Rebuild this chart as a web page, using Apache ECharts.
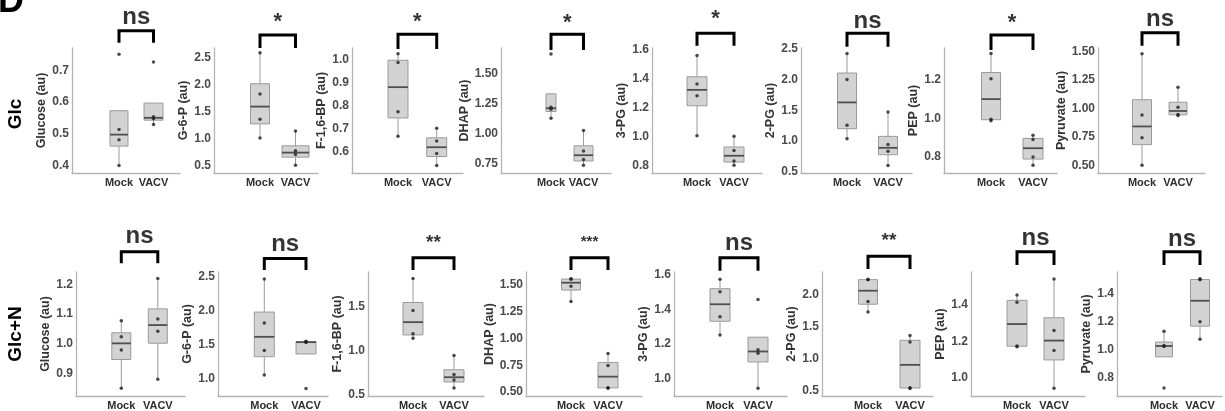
<!DOCTYPE html>
<html>
<head>
<meta charset="utf-8">
<script src="https://cdn.jsdelivr.net/npm/echarts@6/dist/echarts.min.js"></script>
<style>
  html, body { margin: 0; padding: 0; background: #fff; }
  #chart { width: 1225px; height: 411px; }
</style>
</head>
<body>
<div id="chart"></div>
<script>
// ---- data (4 replicates per group) ----
const metabolites = ['Glucose', 'G-6-P', 'F-1,6-BP', 'DHAP', '3-PG', '2-PG', 'PEP', 'Pyruvate'];
const groups = ['Mock', 'VACV'];
const conditions = ['Glc', 'Glc+N'];

const glcMock = [
  [0.40, 0.481, 0.513, 0.75],
  [1.01, 1.36, 1.83, 2.60],
  [0.666, 0.772, 0.988, 1.026],
  [1.13, 1.205, 1.223, 1.668],
  [1.005, 1.28, 1.362, 1.559],
  [1.039, 1.256, 2.0, 2.419],
  [0.988, 0.995, 1.205, 1.336],
  [0.5, 0.741, 0.941, 1.48]
];
const glcVacv = [
  [0.529, 0.547, 0.553, 0.726],
  [0.5, 0.70, 0.77, 1.14],
  [0.538, 0.59, 0.645, 0.70],
  [0.736, 0.784, 0.856, 1.028],
  [0.80, 0.83, 0.902, 1.0],
  [0.605, 0.838, 0.946, 1.473],
  [0.757, 0.80, 0.891, 0.913],
  [0.938, 0.945, 1.009, 1.186]
];
const glcnMock = [
  [0.85, 0.979, 1.023, 1.077],
  [1.058, 1.416, 1.82, 2.466],
  [1.139, 1.191, 1.455, 1.818],
  [1.346, 1.49, 1.556, 1.56],
  [1.253, 1.358, 1.501, 1.573],
  [1.724, 1.887, 2.225, 2.235],
  [1.17, 1.175, 1.415, 1.454],
  [0.723, 1.02, 1.026, 1.129]
];
const glcnVacv = [
  [0.88, 1.042, 1.083, 1.219],
  [0.86, 1.535, 1.545, 1.552],
  [0.575, 0.667, 0.729, 0.944],
  [0.535, 0.540, 0.748, 0.861],
  [0.947, 1.148, 1.168, 1.457],
  [0.54, 0.55, 1.262, 1.362],
  [0.944, 1.15, 1.259, 1.541],
  [1.071, 1.196, 1.497, 1.503]
];

const glcSig = ['ns', '*', '*', '*', '*', 'ns', '*', 'ns'];
const glcnSig = ['ns', 'ns', '**', '***', 'ns', '**', 'ns', 'ns'];

// y axis ranges and tick labels
const glcYRange = [[0.376, 0.77], [0.354, 2.69], [0.505, 1.051], [0.671, 1.719],
  [0.747, 1.61], [0.484, 2.51], [0.717, 1.365], [0.432, 1.53]];
const glcnYRange = [[0.824, 1.241], [0.749, 2.57], [0.485, 1.892], [0.463, 1.623],
  [0.902, 1.615], [0.423, 2.346], [0.901, 1.58], [0.666, 1.552]];
const glcTicks = [[0.4, 0.5, 0.6, 0.7], [0.5, 1, 1.5, 2, 2.5], [0.6, 0.7, 0.8, 0.9, 1.0],
  [0.75, 1.0, 1.25, 1.5], [0.8, 1.0, 1.2, 1.4, 1.6], [0.5, 1, 1.5, 2, 2.5],
  [0.8, 1.0, 1.2], [0.5, 0.75, 1.0, 1.25, 1.5]];
const glcnTicks = [[0.9, 1.0, 1.1, 1.2], [1.0, 1.5, 2.0, 2.5], [0.5, 1.0, 1.5],
  [0.5, 0.75, 1.0, 1.25, 1.5], [1.0, 1.2, 1.4, 1.6], [0.5, 1.0, 1.5, 2.0],
  [1.0, 1.2, 1.4], [0.8, 1.0, 1.2, 1.4]];
const glcDecimals = [1, 1, 1, 2, 1, 1, 1, 2];
const glcnDecimals = [1, 1, 1, 2, 1, 1, 1, 1];

// ---- layout (pixels) ----
const layout = [
  {
    top: 48, bottom: 173,
    left: [72, 214, 352, 501, 652, 801, 944, 1098],
    right: [180, 318, 463, 611, 762, 912, 1057, 1205],
    mockX: [119, 260, 398, 551, 697, 847, 991, 1142],
    vacvX: [153.5, 295.5, 436.7, 583.5, 734, 888, 1033, 1178],
    boxW: [[18, 19], [19, 27], [20, 20], [10, 19], [20, 20], [19, 19], [19, 20], [19, 18]],
    bracket: [[30.7, 42.7], [35, 48], [34.3, 49], [34.3, 50], [33.3, 45.7], [33.3, 46.7], [35, 50], [32.7, 45.7]],
    sigY: [17.5, 21.7, 21.7, 22.5, 19.2, 21.5, 22.5, 19],
    nameGap: [17, 17, 17, 22, 17, 17, 17, 22]
  },
  {
    top: 272, bottom: 397,
    left: [76, 218, 368, 526, 674, 822, 971, 1117],
    right: [185, 328, 484, 642, 787, 933, 1085, 1222],
    mockX: [121.3, 264.3, 413, 571, 720, 868, 1017, 1164],
    vacvX: [157.8, 306, 454, 608, 758, 910, 1054, 1200],
    boxW: [[19, 19], [20, 20], [20, 20], [19, 20], [20, 20], [19, 20], [20, 20], [17, 19]],
    bracket: [[251.7, 263.3], [258.3, 270], [257.7, 270], [257.7, 270], [257.7, 270.7], [256, 269], [251.7, 265], [251.7, 265]],
    sigY: [236.5, 244, 242.7, 241.3, 243.5, 241, 238.5, 239],
    nameGap: [17, 17, 17, 22, 17, 17, 17, 17]
  }
];

const rowData = [
  { mock: glcMock, vacv: glcVacv, sig: glcSig, yRange: glcYRange, ticks: glcTicks, dec: glcDecimals },
  { mock: glcnMock, vacv: glcnVacv, sig: glcnSig, yRange: glcnYRange, ticks: glcnTicks, dec: glcnDecimals }
];

const FONT = '"Liberation Sans", Arial, sans-serif';
const sigSize = { 'ns': 24, '*': 22, '**': 19, '***': 15 };

// ggplot-style box statistics (type 7 quantiles, 1.5 IQR whiskers)
function quantile(s, p) {
  const h = (s.length - 1) * p;
  const lo = Math.floor(h);
  const hi = Math.min(lo + 1, s.length - 1);
  return s[lo] + (h - lo) * (s[hi] - s[lo]);
}
function boxStats(values) {
  const s = values.slice().sort((a, b) => a - b);
  const q1 = quantile(s, 0.25), med = quantile(s, 0.5), q3 = quantile(s, 0.75);
  const iqr = q3 - q1;
  const inside = s.filter(v => v >= q1 - 1.5 * iqr && v <= q3 + 1.5 * iqr);
  return [inside[0], q1, med, q3, inside[inside.length - 1]];
}

const grid = [], xAxis = [], yAxis = [], series = [];
const axisLineStyle = { color: '#b4b4b4', width: 1.3 };

layout.forEach((lay, r) => {
  const rd = rowData[r];
  for (let c = 0; c < metabolites.length; c++) {
    const i = grid.length;
    const L = lay.left[c], R = lay.right[c], T = lay.top, B = lay.bottom;
    const s = lay.vacvX[c] - lay.mockX[c];
    const [ymin, ymax] = rd.yRange[c];
    const pxToY = py => ymin + (B - py) / (B - T) * (ymax - ymin);
    const dec = rd.dec[c];

    grid.push({ left: L, top: T, width: R - L, height: B - T });
    xAxis.push({
      gridIndex: i, type: 'value',
      min: 1 - (lay.mockX[c] - L) / s,
      max: 2 + (R - lay.vacvX[c]) / s,
      axisLine: { show: true, onZero: false, lineStyle: axisLineStyle },
      axisTick: { show: false },
      splitLine: { show: false },
      axisLabel: {
        customValues: [1, 2],
        formatter: v => groups[Math.round(v) - 1],
        fontFamily: FONT, fontWeight: 'bold', fontSize: 11, color: '#2e2e2e', margin: 4
      }
    });
    yAxis.push({
      gridIndex: i, type: 'value', min: ymin, max: ymax,
      name: metabolites[c] + ' (au)',
      nameLocation: 'middle', nameGap: lay.nameGap[c],
      nameTextStyle: { fontFamily: FONT, fontWeight: 'bold', fontSize: 12.5, color: '#333' },
      axisLine: { show: true, onZero: false, lineStyle: axisLineStyle },
      axisTick: { show: false },
      splitLine: { show: false },
      axisLabel: {
        customValues: rd.ticks[c],
        formatter: v => v.toFixed(dec),
        fontFamily: FONT, fontWeight: 'bold', fontSize: 12, color: '#4a4a4a', margin: 3
      }
    });

    const mockVals = rd.mock[c], vacvVals = rd.vacv[c];
    const widths = lay.boxW[c];

    // boxes
    series.push({
      type: 'custom', xAxisIndex: i, yAxisIndex: i, silent: true,
      data: [[1].concat(boxStats(mockVals)), [2].concat(boxStats(vacvVals))],
      encode: { x: 0, y: [1, 2, 3, 4, 5] },
      renderItem: (params, api) => {
        const x = api.value(0);
        const w = widths[params.dataIndex];
        const pLo = api.coord([x, api.value(1)]);
        const pQ1 = api.coord([x, api.value(2)]);
        const pMed = api.coord([x, api.value(3)]);
        const pQ3 = api.coord([x, api.value(4)]);
        const pHi = api.coord([x, api.value(5)]);
        const cx = pQ1[0];
        const wStyle = { stroke: '#9c9c9c', lineWidth: 1 };
        return {
          type: 'group',
          children: [
            { type: 'line', shape: { x1: cx, y1: pLo[1], x2: cx, y2: pQ1[1] }, style: wStyle },
            { type: 'line', shape: { x1: cx, y1: pQ3[1], x2: cx, y2: pHi[1] }, style: wStyle },
            { type: 'rect', shape: { x: cx - w / 2, y: pQ3[1], width: w, height: pQ1[1] - pQ3[1] },
              style: { fill: '#d3d3d3', stroke: '#9a9a9a', lineWidth: 1 } },
            { type: 'line', shape: { x1: cx - w / 2, y1: pMed[1], x2: cx + w / 2, y2: pMed[1] },
              style: { stroke: '#4f4f4f', lineWidth: 1.8 } }
          ]
        };
      }
    });

    // replicate points
    series.push({
      type: 'scatter', xAxisIndex: i, yAxisIndex: i, silent: true,
      symbolSize: 3.5, itemStyle: { color: '#1e1e1e' }, z: 5,
      data: mockVals.map(v => [1, v]).concat(vacvVals.map(v => [2, v]))
    });

    // significance bracket
    const yTop = pxToY(lay.bracket[c][0]), yLeg = pxToY(lay.bracket[c][1]);
    series.push({
      type: 'line', xAxisIndex: i, yAxisIndex: i, silent: true, clip: false,
      symbol: 'none', lineStyle: { color: '#000', width: 3, cap: 'butt', join: 'miter' },
      data: [[1, yLeg], [1, yTop], [2, yTop], [2, yLeg]]
    });

    // significance text
    const sig = rd.sig[c];
    series.push({
      type: 'scatter', xAxisIndex: i, yAxisIndex: i, silent: true, clip: false,
      symbolSize: 1, itemStyle: { color: 'rgba(0,0,0,0)' },
      data: [[1.5, pxToY(lay.sigY[c])]],
      label: {
        show: true, position: 'inside', formatter: sig,
        fontFamily: FONT, fontWeight: 'bold', fontSize: sigSize[sig], color: '#000'
      }
    });
  }
});

const chart = echarts.init(document.getElementById('chart'));
chart.setOption({
  animation: false,
  backgroundColor: '#fff',
  grid, xAxis, yAxis, series,
  graphic: [
    { type: 'text', left: -2, top: -16,
      style: { text: 'D', font: 'bold 36px ' + FONT, fill: '#000' } },
    { type: 'text', x: 16, y: 114, rotation: Math.PI / 2,
      style: { text: conditions[0], font: 'bold 19px ' + FONT, fill: '#000', align: 'center', verticalAlign: 'middle' } },
    { type: 'text', x: 16, y: 334, rotation: Math.PI / 2,
      style: { text: conditions[1], font: 'bold 19px ' + FONT, fill: '#000', align: 'center', verticalAlign: 'middle' } }
  ]
});

window.addEventListener('resize', () => chart.resize());
</script>
</body>
</html>
